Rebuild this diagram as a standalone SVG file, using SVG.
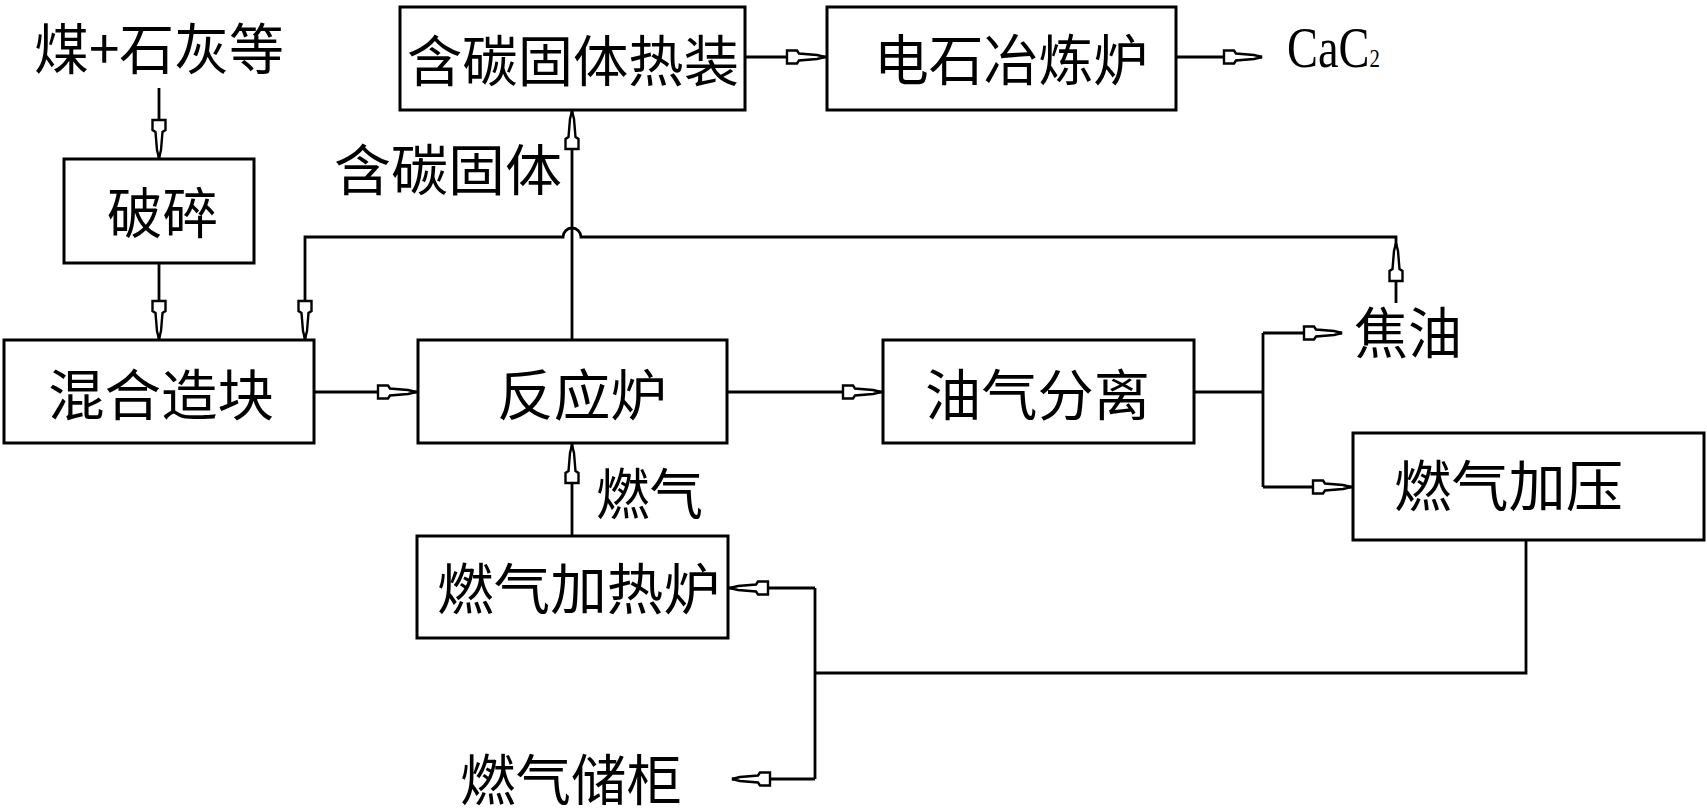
<svg xmlns="http://www.w3.org/2000/svg" xmlns:xlink="http://www.w3.org/1999/xlink" width="1707" height="810" viewBox="0 0 1707 810">
<style>
.box{fill:#fff;stroke:#000;stroke-width:3}
.t{font-family:"Noto Sans CJK SC","Noto Sans CJK JP",sans-serif;font-size:55px;fill:#000;dominant-baseline:central}
.ln{fill:none;stroke:#000;stroke-width:2.8}
.en{font-family:"Liberation Serif",serif;fill:#000}
</style>
<defs>
<path id="ah" d="M-38,-6.5 L-28,-6.5 L-26,-3.5 L-8,-2 L0,0 L-8,2 L-26,3.5 L-28,6.5 L-38,6.5 Z" fill="#fff" stroke="#000" stroke-width="2.4" stroke-linejoin="miter"/>
</defs>
<rect width="1707" height="810" fill="#fff"/>

<g id="connectors">
<path class="ln" d="M159,88 V159"/>
<path class="ln" d="M159,263 V340"/>
<path class="ln" d="M1396,303 V237 H581 A9,9 0 0 0 563,237 H305 V340"/>
<path class="ln" d="M572,340 V109"/>
<path class="ln" d="M744,57 H827"/>
<path class="ln" d="M1177,57 H1262"/>
<path class="ln" d="M314,392 H418"/>
<path class="ln" d="M727,392 H883"/>
<path class="ln" d="M1194,392 H1263 M1263,333 V487 M1263,333 H1342 M1263,487 H1353"/>
<path class="ln" d="M572,536 V443"/>
<path class="ln" d="M1526,540 V673 H815 M815,588 V779 M815,588 H728 M815,779 H732"/>
<use xlink:href="#ah" transform="translate(159,158) rotate(90)"/>
<use xlink:href="#ah" transform="translate(159,339) rotate(90)"/>
<use xlink:href="#ah" transform="translate(1396,243) rotate(-90)"/>
<use xlink:href="#ah" transform="translate(305,339) rotate(90)"/>
<use xlink:href="#ah" transform="translate(572,111) rotate(-90)"/>
<use xlink:href="#ah" transform="translate(825,57)"/>
<use xlink:href="#ah" transform="translate(1262,57)"/>
<use xlink:href="#ah" transform="translate(416,392)"/>
<use xlink:href="#ah" transform="translate(881,392)"/>
<use xlink:href="#ah" transform="translate(1342,333)"/>
<use xlink:href="#ah" transform="translate(1351,487)"/>
<use xlink:href="#ah" transform="translate(572,445) rotate(-90)"/>
<use xlink:href="#ah" transform="translate(730,588) rotate(180)"/>
<use xlink:href="#ah" transform="translate(732,779) rotate(180)"/>
</g>

<g id="n-input"><text class="t" x="34" y="45" textLength="250" lengthAdjust="spacingAndGlyphs">煤+石灰等</text></g>
<g id="n-hotload"><rect class="box" x="400" y="7" width="345" height="103"/><text class="t" x="407" y="57" textLength="332" lengthAdjust="spacingAndGlyphs">含碳固体热装</text></g>
<g id="n-furnace"><rect class="box" x="827" y="7" width="349" height="103"/><text class="t" x="874" y="56" textLength="274" lengthAdjust="spacingAndGlyphs">电石冶炼炉</text></g>
<g id="n-cac2"><text class="en" font-size="58" transform="translate(1287,67) scale(0.8,1)">CaC<tspan font-size="26">2</tspan></text></g>
<g id="n-crush"><rect class="box" x="64" y="159" width="190" height="104"/><text class="t" x="107" y="209" textLength="111" lengthAdjust="spacingAndGlyphs">破碎</text></g>
<g id="n-solid-label"><text class="t" x="334" y="166" textLength="228" lengthAdjust="spacingAndGlyphs">含碳固体</text></g>
<g id="n-mix"><rect class="box" x="4" y="340" width="310" height="103"/><text class="t" x="48" y="391" textLength="226" lengthAdjust="spacingAndGlyphs">混合造块</text></g>
<g id="n-reactor"><rect class="box" x="418" y="340" width="309" height="103"/><text class="t" x="497" y="391" textLength="170" lengthAdjust="spacingAndGlyphs">反应炉</text></g>
<g id="n-sep"><rect class="box" x="883" y="340" width="311" height="103"/><text class="t" x="925" y="391" textLength="225" lengthAdjust="spacingAndGlyphs">油气分离</text></g>
<g id="n-tar"><text class="t" x="1354" y="329" textLength="108" lengthAdjust="spacingAndGlyphs">焦油</text></g>
<g id="n-press"><rect class="box" x="1353" y="433" width="351" height="107"/><text class="t" x="1394" y="482" textLength="229" lengthAdjust="spacingAndGlyphs">燃气加压</text></g>
<g id="n-gas-label"><text class="t" x="596" y="490" textLength="107" lengthAdjust="spacingAndGlyphs">燃气</text></g>
<g id="n-heater"><rect class="box" x="417" y="536" width="311" height="102"/><text class="t" x="437" y="585" textLength="283" lengthAdjust="spacingAndGlyphs">燃气加热炉</text></g>
<g id="n-holder"><text class="t" x="460" y="776" font-size="52" textLength="222" lengthAdjust="spacingAndGlyphs">燃气储柜</text></g>
</svg>
